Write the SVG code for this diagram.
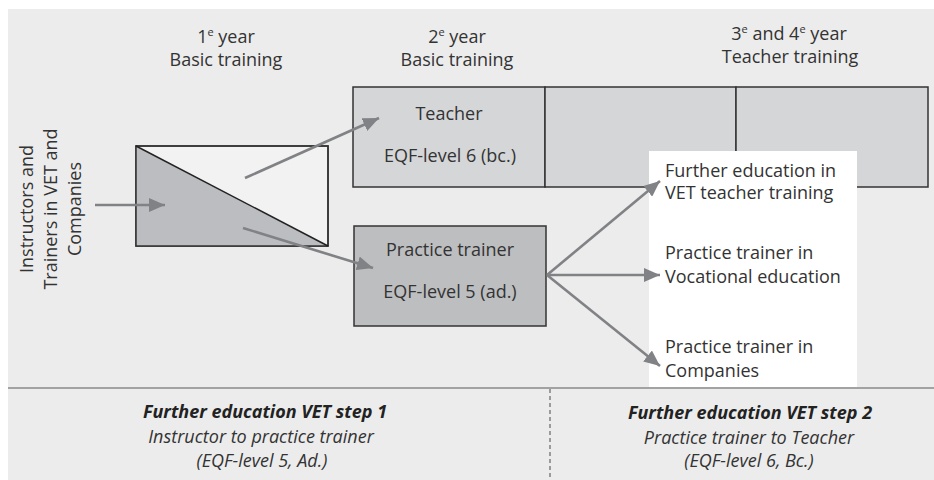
<svg xmlns="http://www.w3.org/2000/svg" width="934" height="480" viewBox="0 0 934 480">
<style>
.t{font-family:"Open Sans","Noto Sans",sans-serif;font-size:18px;fill:#333;}
.c{text-anchor:middle;}
.sup{font-size:11px;}
.bi{font-family:"Open Sans","Noto Sans",sans-serif;font-size:18px;font-weight:bold;font-style:italic;fill:#222;text-anchor:middle;}
.it{font-family:"Open Sans","Noto Sans",sans-serif;font-size:18px;font-style:italic;fill:#333;text-anchor:middle;}
.box{stroke:#333;stroke-width:1.5;}
.arr{stroke:#818285;stroke-width:2.6;fill:none;marker-end:url(#ah);}
</style>
<defs>
<marker id="ah" markerUnits="userSpaceOnUse" markerWidth="18" markerHeight="14" refX="16" refY="7" orient="auto">
<path d="M0,0 L16,7 L0,14 Z" fill="#818285"/>
</marker>
</defs>
<rect x="8" y="9" width="926" height="471" fill="#ececec"/>
<line x1="8" y1="388" x2="934" y2="388" stroke="#8a8a8a" stroke-width="1.5"/>
<line x1="550" y1="389" x2="550" y2="480" stroke="#666" stroke-width="1.2" stroke-dasharray="4 3"/>

<g id="headers">
<text class="t c" x="226" y="43">1<tspan class="sup" dy="-7">e</tspan><tspan dy="7"> year</tspan></text>
<text class="t c" x="226" y="66">Basic training</text>
<text class="t c" x="457" y="43">2<tspan class="sup" dy="-7">e</tspan><tspan dy="7"> year</tspan></text>
<text class="t c" x="457" y="66">Basic training</text>
<text class="t c" x="789" y="40">3<tspan class="sup" dy="-7">e</tspan><tspan dy="7"> and 4</tspan><tspan class="sup" dy="-7">e</tspan><tspan dy="7"> year</tspan></text>
<text class="t c" x="790" y="63">Teacher training</text>
</g>

<g id="source">
<text class="t c" transform="translate(33,209) rotate(-90)">Instructors and</text>
<text class="t c" transform="translate(57,209) rotate(-90)">Trainers in VET and</text>
<text class="t c" transform="translate(81,209) rotate(-90)">Companies</text>
</g>

<g id="year1">
<rect x="136" y="146" width="192" height="100" fill="#f2f2f2" class="box"/>
<polygon points="136,146 328,246 136,246" fill="#bcbdc0"/>
<rect x="136" y="146" width="192" height="100" fill="none" class="box"/>
<line x1="136" y1="146" x2="328" y2="246" stroke="#222" stroke-width="1.5"/>
</g>

<g id="teacher">
<rect x="353" y="87" width="192" height="100" fill="#d5d6d8" class="box"/>
<rect x="545" y="87" width="191" height="100" fill="#d5d6d8" class="box"/>
<rect x="736" y="87" width="192" height="100" fill="#d5d6d8" class="box"/>
<text class="t c" x="449" y="120">Teacher</text>
<text class="t c" x="450" y="162">EQF-level 6 (bc.)</text>
</g>

<g id="practice">
<rect x="354" y="226" width="192" height="100" fill="#bdbec0" class="box"/>
<text class="t c" x="450" y="256">Practice trainer</text>
<text class="t c" x="450" y="298">EQF-level 5 (ad.)</text>
</g>

<g id="outcomes">
<rect x="649" y="151" width="208" height="236" fill="#ffffff"/>
<text class="t" x="665" y="177">Further education in</text>
<text class="t" x="665" y="199">VET teacher training</text>
<text class="t" x="665" y="259">Practice trainer in</text>
<text class="t" x="665" y="283">Vocational education</text>
<text class="t" x="665" y="353">Practice trainer in</text>
<text class="t" x="665" y="377">Companies</text>
</g>

<g id="connectors">
<line class="arr" x1="95" y1="205" x2="165" y2="205"/>
<line class="arr" x1="245" y1="178" x2="379" y2="118"/>
<line class="arr" x1="243" y1="228" x2="373" y2="268"/>
<line class="arr" x1="547" y1="275" x2="660" y2="181"/>
<line class="arr" x1="547" y1="275" x2="660" y2="275"/>
<line class="arr" x1="547" y1="275" x2="660" y2="366"/>
</g>

<g id="steps">
<text class="bi" x="265" y="418">Further education VET step 1</text>
<text class="it" x="261" y="443">Instructor to practice trainer</text>
<text class="it" x="262" y="467">(EQF-level 5, Ad.)</text>
<text class="bi" x="750" y="419">Further education VET step 2</text>
<text class="it" x="749" y="444">Practice trainer to Teacher</text>
<text class="it" x="749" y="467">(EQF-level 6, Bc.)</text>
</g>
</svg>
